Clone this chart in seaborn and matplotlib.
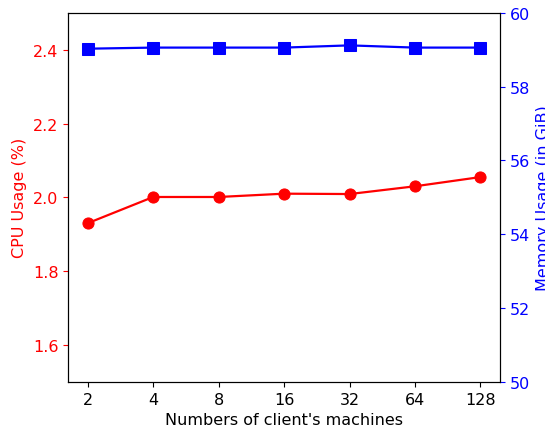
import matplotlib
matplotlib.use("Agg")
import matplotlib.pyplot as plt
import seaborn as sns
import pandas as pd

machines = ["2", "4", "8", "16", "32", "64", "128"]
cpu_usage = [1.93, 2.001, 2.001, 2.01, 2.009, 2.03, 2.055]
memory_gib = [59.03, 59.06, 59.06, 59.06, 59.12, 59.06, 59.06]

pos = list(range(len(machines)))
df = pd.DataFrame({"pos": pos, "cpu": cpu_usage, "mem": memory_gib})

plt.rcParams["font.size"] = 11.5

fig, ax1 = plt.subplots(figsize=(5.45, 4.35), dpi=100)
fig.subplots_adjust(left=0.125, right=0.9175, top=0.968, bottom=0.12)

sns.lineplot(data=df, x="pos", y="cpu", ax=ax1, color="red", marker="o",
             markersize=8, linewidth=1.6, markeredgecolor="red")
ax1.set_ylim(1.5, 2.5)
ax1.set_yticks([1.6, 1.8, 2.0, 2.2, 2.4])
ax1.set_ylabel("CPU Usage (%)", color="red")
ax1.tick_params(axis="y", colors="red")
ax1.set_xlabel("Numbers of client's machines")
ax1.set_xticks(pos)
ax1.set_xticklabels(machines)

ax2 = ax1.twinx()
sns.lineplot(data=df, x="pos", y="mem", ax=ax2, color="blue", marker="s",
             markersize=8, linewidth=1.6, markeredgecolor="blue")
ax2.set_ylim(50, 60)
ax2.set_yticks([50, 52, 54, 56, 58, 60])
ax2.set_ylabel("Memory Usage (in GiB)", color="blue")
ax2.tick_params(axis="y", colors="blue")
ax2.set_xlabel("")

fig.savefig("out.png", dpi=100)
